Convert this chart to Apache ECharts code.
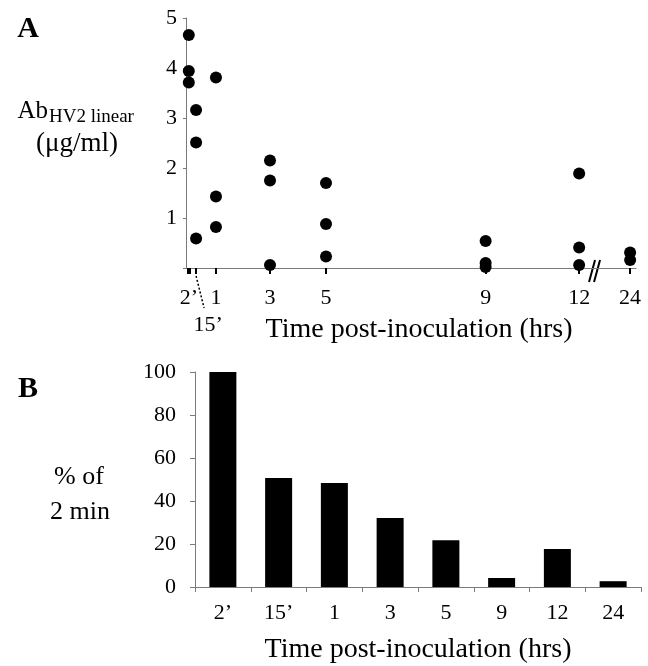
<!DOCTYPE html>
<html>
<head>
<meta charset="utf-8">
<script src="https://cdn.jsdelivr.net/npm/echarts@6/dist/echarts.min.js"></script>
<style>
  html, body { margin: 0; padding: 0; background: #fff; }
  #chart { width: 648px; height: 666px; }
</style>
</head>
<body>
<div id="chart"></div>
<script>
// time points (labels) and where they sit on panel A's broken x axis
const timeLabels = ['2’', '15’', '1', '3', '5', '9', '12', '24']
const timePos    = [0.1, 0.36, 1.07, 3, 5, 10.7, 14.04, 15.86]
const tickPos    = [0.05, 0.15, 0.36, 1.07, 3, 5, 10.7, 14.04, 15.86]

// panel A: Ab HV2 linear (ug/ml), one list per time point
const abValues = [
  [4.66, 3.94, 3.71],
  [3.16, 2.51, 0.59],
  [3.81, 1.43, 0.82],
  [2.15, 1.75, 0.06],
  [1.70, 0.88, 0.23],
  [0.54, 0.10, 0.02],
  [1.89, 0.41, 0.06],
  [0.31, 0.16],
]

// panel B: % of 2 min
const pctOf2min = [100, 50.7, 48.4, 32.1, 21.7, 4.2, 17.7, 2.7]

const FONT = '"Liberation Serif", "DejaVu Serif", serif'
const AXIS_GREY = '#7a7a7a'

const scatterData = []
abValues.forEach((vals, i) => vals.forEach(v => scatterData.push([timePos[i], v])))

const chart = echarts.init(document.getElementById('chart'), null, { renderer: 'canvas' })

chart.setOption({
  animation: false,
  backgroundColor: '#fff',
  textStyle: { fontFamily: FONT, color: '#000' },
  grid: [
    { left: 186, right: 12, top: 18, height: 250 },
    { left: 195, right: 7, top: 372, height: 215 },
  ],
  xAxis: [
    {
      gridIndex: 0,
      type: 'value',
      min: 0,
      max: 16.07,
      splitLine: { show: false },
      axisLine: { lineStyle: { color: AXIS_GREY, width: 1 } },
      axisTick: { show: true, customValues: tickPos, length: 6, lineStyle: { color: '#000', width: 2 } },
      axisLabel: {
        customValues: timePos.filter((p, i) => i !== 1),
        formatter: v => timeLabels[timePos.indexOf(v)],
        fontFamily: FONT, fontSize: 22, color: '#000', margin: 19,
      },
      name: 'Time post-inoculation (hrs)',
      nameLocation: 'middle',
      nameGap: 48,
      nameTextStyle: { fontFamily: FONT, fontSize: 28, color: '#000', padding: [0, 0, 0, 16] },
    },
    {
      gridIndex: 1,
      type: 'category',
      data: timeLabels,
      axisLine: { lineStyle: { color: AXIS_GREY, width: 1 } },
      axisTick: { show: true, length: 5, lineStyle: { color: AXIS_GREY } },
      axisLabel: { fontFamily: FONT, fontSize: 22, color: '#000', margin: 15 },
      name: 'Time post-inoculation (hrs)',
      nameLocation: 'middle',
      nameGap: 49,
      nameTextStyle: { fontFamily: FONT, fontSize: 28, color: '#000' },
    },
  ],
  yAxis: [
    {
      gridIndex: 0,
      type: 'value',
      min: 0, max: 5, interval: 1,
      splitLine: { show: false },
      axisLine: { show: true, lineStyle: { color: AXIS_GREY, width: 1 } },
      axisTick: { show: true, length: 3, lineStyle: { color: AXIS_GREY } },
      axisLabel: { fontFamily: FONT, fontSize: 22, color: '#000', margin: 9, formatter: v => (v === 0 ? '' : v) },
    },
    {
      gridIndex: 1,
      type: 'value',
      min: 0, max: 100, interval: 20,
      splitLine: { show: false },
      axisLine: { show: true, lineStyle: { color: AXIS_GREY, width: 1 } },
      axisTick: { show: true, length: 5, lineStyle: { color: AXIS_GREY } },
      axisLabel: { fontFamily: FONT, fontSize: 22, color: '#000', margin: 19 },
    },
  ],
  series: [
    {
      type: 'scatter',
      xAxisIndex: 0, yAxisIndex: 0,
      symbolSize: 12,
      itemStyle: { color: '#000', opacity: 1 },
      data: scatterData,
      z: 5,
    },
    {
      type: 'bar',
      xAxisIndex: 1, yAxisIndex: 1,
      barWidth: 27,
      itemStyle: { color: '#000' },
      data: pctOf2min,
    },
  ],
})

// decorations: panel letters, y-axis titles, the 15' leader and the axis break
const p15 = chart.convertToPixel({ gridIndex: 0 }, [timePos[1], 0])
const pBreak = chart.convertToPixel({ gridIndex: 0 }, [14.5, 0])
const txt = (x, y, text, size, extra) => ({
  type: 'text', x, y,
  style: Object.assign({ text, font: `${size}px ${FONT}`, fill: '#000', align: 'center', verticalAlign: 'middle' }, extra || {}),
})

chart.setOption({
  graphic: [
    txt(28, 29, 'A', 30, { font: `bold 30px ${FONT}` }),
    txt(28, 389, 'B', 30, { font: `bold 30px ${FONT}` }),
    txt(48, 111, 'Ab', 25, { align: 'right' }),
    txt(49, 117, 'HV2 linear', 19, { align: 'left' }),
    txt(77, 144, '(μg/ml)', 27),
    txt(79, 477, '% of', 26),
    txt(80, 512, '2 min', 26),
    {
      type: 'line',
      shape: { x1: p15[0], y1: p15[1] + 8, x2: p15[0] + 8, y2: p15[1] + 40 },
      style: { stroke: '#000', lineWidth: 1.5, lineDash: [2, 2] },
    },
    txt(p15[0] + 12, p15[1] + 57, timeLabels[1], 22),
    {
      type: 'group',
      children: [0, 5].map(dx => ({
        type: 'line',
        shape: { x1: pBreak[0] + dx - 3, y1: pBreak[1] + 14, x2: pBreak[0] + dx + 3, y2: pBreak[1] - 8 },
        style: { stroke: '#000', lineWidth: 2 },
      })),
    },
  ],
})
</script>
</body>
</html>
